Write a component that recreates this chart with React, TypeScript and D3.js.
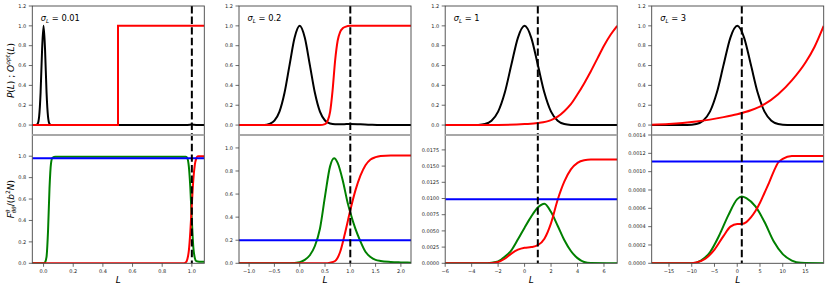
import React from 'react';
import * as d3 from 'd3';

type Pt = [number, number];

// ---- sigma_L = 0.01 ----
const p1TopBlack: Pt[] = [[-0.076, 0], [-0.05, 0], [-0.04, 0.012], [-0.03, 0.085], [-0.02, 0.33], [-0.01, 0.76], [0, 1.0], [0.01, 0.76], [0.02, 0.33], [0.03, 0.085], [0.04, 0.012], [0.05, 0], [0.96, 0], [0.99, 0.004], [1.0, 0.006], [1.01, 0.004], [1.04, 0], [1.084, 0]];
const p1TopRed: Pt[] = [[-0.076, 0], [0.502, 0], [0.502, 1.0], [1.084, 1.0]];
const p1BotGreen: Pt[] = [[-0.076, 0], [0, 0], [0.01, 0.01], [0.02, 0.06], [0.03, 0.3], [0.04, 0.7], [0.05, 0.93], [0.06, 0.985], [0.08, 0.995], [0.96, 0.995], [0.97, 0.98], [0.98, 0.9], [0.99, 0.7], [1.0, 0.4], [1.01, 0.15], [1.02, 0.05], [1.03, 0.02], [1.05, 0.015], [1.084, 0.015]];
const p1BotRed: Pt[] = [[-0.076, 0], [0.94, 0], [0.96, 0.01], [0.97, 0.04], [0.98, 0.12], [0.99, 0.3], [1.0, 0.55], [1.01, 0.78], [1.02, 0.92], [1.03, 0.98], [1.04, 1.0], [1.084, 1.0]];

// ---- sigma_L = 0.2 ----
const p2TopBlack: Pt[] = [[-1.2, 0], [-0.7, 0], [-0.6, 0.011], [-0.5, 0.044], [-0.4, 0.135], [-0.3, 0.325], [-0.2, 0.607], [-0.1, 0.882], [0, 1.0], [0.1, 0.882], [0.2, 0.607], [0.3, 0.325], [0.4, 0.135], [0.5, 0.046], [0.6, 0.015], [0.7, 0.008], [0.85, 0.008], [1.0, 0.012], [1.2, 0.008], [1.4, 0.003], [1.6, 0], [2.2, 0]];
const p2TopRed: Pt[] = [[-1.2, 0], [0.4, 0], [0.5, 0.01], [0.55, 0.04], [0.6, 0.13], [0.65, 0.35], [0.7, 0.65], [0.75, 0.85], [0.8, 0.94], [0.85, 0.975], [0.9, 0.99], [1.0, 1.0], [2.2, 1.0]];
const p2BotGreen: Pt[] = [[-1.2, 0], [-0.2, 0], [0, 0.01], [0.1, 0.03], [0.2, 0.07], [0.3, 0.15], [0.4, 0.3], [0.5, 0.58], [0.6, 0.84], [0.68, 0.91], [0.75, 0.87], [0.85, 0.72], [0.95, 0.52], [1.0, 0.44], [1.1, 0.3], [1.2, 0.19], [1.3, 0.1], [1.4, 0.055], [1.5, 0.03], [1.6, 0.02], [1.8, 0.012], [2.0, 0.008], [2.2, 0.005]];
const p2BotRed: Pt[] = [[-1.2, 0], [0.5, 0], [0.6, 0.005], [0.7, 0.02], [0.8, 0.1], [0.9, 0.27], [1.0, 0.46], [1.1, 0.63], [1.2, 0.76], [1.3, 0.85], [1.4, 0.9], [1.5, 0.92], [1.6, 0.93], [1.8, 0.935], [2.2, 0.935]];

// ---- sigma_L = 1 ----
const p3TopBlack: Pt[] = [[-6, 0], [-4, 0], [-3.5, 0.002], [-3, 0.011], [-2.5, 0.044], [-2, 0.135], [-1.5, 0.325], [-1, 0.607], [-0.5, 0.882], [0, 1.0], [0.5, 0.882], [1, 0.607], [1.5, 0.325], [2, 0.135], [2.5, 0.044], [3, 0.011], [3.5, 0.002], [4, 0], [7, 0]];
const p3TopRed: Pt[] = [[-6, 0], [-2, 0.002], [0, 0.01], [1, 0.02], [2, 0.05], [2.5, 0.085], [3, 0.14], [3.5, 0.21], [4, 0.31], [4.5, 0.42], [5, 0.54], [5.5, 0.67], [6, 0.8], [6.5, 0.91], [7, 1.0]];
const p3BotGreen: Pt[] = [[-6, 0], [-3, 0], [-2.5, 0.0001], [-2, 0.0003], [-1.5, 0.001], [-1, 0.002], [-0.5, 0.0037], [0, 0.0055], [0.5, 0.0072], [1, 0.0086], [1.5, 0.0092], [2, 0.0079], [2.5, 0.0058], [3, 0.0036], [3.5, 0.0019], [4, 0.0008], [4.5, 0.0002], [5, 0.00003], [7, 0]];
const p3BotRed: Pt[] = [[-6, 0], [-3, 0], [-2.5, 0.00005], [-2, 0.0002], [-1.5, 0.0007], [-1, 0.0015], [-0.5, 0.0021], [0, 0.0024], [0.5, 0.0025], [1, 0.0028], [1.5, 0.0038], [2, 0.0062], [2.5, 0.0098], [3, 0.0126], [3.5, 0.0145], [4, 0.0155], [4.5, 0.0159], [5, 0.016], [7, 0.016]];

// ---- sigma_L = 3 ----
const p4TopBlack: Pt[] = [[-18.8, 0], [-11, 0], [-9, 0.011], [-7.5, 0.044], [-6, 0.135], [-4.5, 0.325], [-3, 0.607], [-1.5, 0.882], [0, 1.0], [1.5, 0.882], [3, 0.607], [4.5, 0.325], [6, 0.135], [7.5, 0.044], [9, 0.011], [11, 0], [19, 0]];
const p4TopRed: Pt[] = [[-18.8, 0.003], [-15, 0.01], [-12, 0.02], [-9, 0.035], [-6, 0.055], [-3, 0.08], [0, 0.11], [3, 0.15], [6, 0.21], [9, 0.31], [12, 0.45], [15, 0.63], [17, 0.79], [19, 1.0]];
const p4BotGreen: Pt[] = [[-18.8, 0], [-10, 0], [-8, 0.00003], [-6, 0.00012], [-4, 0.0003], [-2, 0.00052], [0, 0.0007], [1, 0.00073], [2, 0.00071], [4, 0.00062], [6, 0.00045], [8, 0.00024], [10, 0.0001], [12, 0.00003], [14, 0.000005], [19, 0]];
const p4BotRed: Pt[] = [[-18.8, 0], [-11, 0], [-9, 0.00001], [-7, 0.00005], [-5, 0.00015], [-3, 0.0003], [-1.5, 0.0004], [0, 0.00043], [1, 0.00043], [2, 0.00045], [3, 0.0005], [4, 0.00057], [5, 0.00066], [6, 0.00077], [7, 0.00088], [8, 0.001], [9, 0.0011], [10, 0.00114], [12, 0.00117], [19, 0.00117]];

const sigmaLabels = ['0.01', '0.2', '1', '3'];
const xDomains: Pt[] = [[-0.076, 1.084], [-1.2, 2.2], [-6, 7], [-18.8, 19.0]];
const xTicks = [[0, 0.2, 0.4, 0.6, 0.8, 1.0], [-1, -0.5, 0, 0.5, 1, 1.5, 2], [-6, -4, -2, 0, 2, 4, 6], [-15, -10, -5, 0, 5, 10, 15]];
const xFormats = ['.1f', '.1f', 'd', 'd'];
const topYTicks = [0, 0.2, 0.4, 0.6, 0.8, 1.0, 1.2];
const botYMax = [1.198, 1.112, 0.0198, 0.0014];
const botYTicks = [
  [0, 0.2, 0.4, 0.6, 0.8, 1.0],
  [0, 0.2, 0.4, 0.6, 0.8, 1.0],
  [0, 0.0025, 0.005, 0.0075, 0.01, 0.0125, 0.015, 0.0175],
  [0, 0.0002, 0.0004, 0.0006, 0.0008, 0.001, 0.0012, 0.0014],
];
const botYFormats = ['.1f', '.1f', '.4f', '.4f'];
const blueLevels = [0.981, 0.2, 0.0099, 0.00111];
const thresholdL = 1;

const panels = [
  { topBlack: p1TopBlack, topRed: p1TopRed, botGreen: p1BotGreen, botRed: p1BotRed, stepRed: true },
  { topBlack: p2TopBlack, topRed: p2TopRed, botGreen: p2BotGreen, botRed: p2BotRed, stepRed: false },
  { topBlack: p3TopBlack, topRed: p3TopRed, botGreen: p3BotGreen, botRed: p3BotRed, stepRed: false },
  { topBlack: p4TopBlack, topRed: p4TopRed, botGreen: p4BotGreen, botRed: p4BotRed, stepRed: false },
];

const lefts = [32.3, 239, 445.2, 651.7];
const W = 172;
const TOP = 6;
const MID = 135;
const BOT = 263.3;
const FONT = 'DejaVu Sans, sans-serif';
const TICK_FS = 5;
const SPINE = '#444';

const minus = (s: string) => s.replace(/-/g, '\u2212');

const Panel = ({ i }: { i: number }) => {
  const p = panels[i];
  const x0 = lefts[i];
  const x = d3.scaleLinear().domain(xDomains[i]).range([x0, x0 + W]);
  const yTop = d3.scaleLinear().domain([-0.1, 1.2]).range([MID, TOP]);
  const yBot = d3.scaleLinear().domain([0, botYMax[i]]).range([BOT, MID]);

  const smooth = (ys: d3.ScaleLinear<number, number>) =>
    d3.line<Pt>().x(d => x(d[0])).y(d => ys(d[1])).curve(d3.curveMonotoneX);
  const straight = (ys: d3.ScaleLinear<number, number>) =>
    d3.line<Pt>().x(d => x(d[0])).y(d => ys(d[1]));

  const fx = d3.format(xFormats[i]);
  const fy = d3.format(botYFormats[i]);
  const clipT = `clipT${i}`;
  const clipB = `clipB${i}`;

  return (
    <g>
      <defs>
        <clipPath id={clipT}><rect x={x0} y={TOP} width={W} height={MID - TOP} /></clipPath>
        <clipPath id={clipB}><rect x={x0} y={MID} width={W} height={BOT - MID} /></clipPath>
      </defs>

      {/* top panel curves */}
      <g clipPath={`url(#${clipT})`} fill="none" strokeWidth={2}>
        <path d={smooth(yTop)(p.topBlack) || ''} stroke="#000" />
        <path d={(p.stepRed ? straight(yTop) : smooth(yTop))(p.topRed) || ''} stroke="#ff0000" />
      </g>

      {/* bottom panel curves */}
      <g clipPath={`url(#${clipB})`} fill="none" strokeWidth={2}>
        <path d={smooth(yBot)(p.botGreen) || ''} stroke="#008000" />
        <path d={smooth(yBot)(p.botRed) || ''} stroke="#ff0000" />
        <line x1={x0} x2={x0 + W} y1={yBot(blueLevels[i])} y2={yBot(blueLevels[i])} stroke="#0000ff" />
      </g>

      {/* dashed threshold */}
      <line x1={x(thresholdL)} x2={x(thresholdL)} y1={TOP} y2={BOT} stroke="#000" strokeWidth={2} strokeDasharray="7.4,3.2" />

      {/* spines */}
      <rect x={x0} y={TOP} width={W} height={BOT - TOP} fill="none" stroke={SPINE} strokeWidth={0.9} />
      <line x1={x0} x2={x0 + W} y1={MID} y2={MID} stroke="#a8a8a8" strokeWidth={1.8} />

      {/* top y ticks */}
      {topYTicks.map(t => (
        <g key={`ty${t}`}>
          <line x1={x0 - 3.5} x2={x0} y1={yTop(t)} y2={yTop(t)} stroke={SPINE} strokeWidth={0.8} />
          <text x={x0 - 6} y={yTop(t)} dy="0.35em" textAnchor="end" fontSize={TICK_FS} fontFamily={FONT} fill="#222">{d3.format('.1f')(t)}</text>
        </g>
      ))}

      {/* bottom y ticks */}
      {botYTicks[i].map(t => (
        <g key={`by${t}`}>
          <line x1={x0 - 3.5} x2={x0} y1={yBot(t)} y2={yBot(t)} stroke={SPINE} strokeWidth={0.8} />
          <text x={x0 - 6} y={yBot(t)} dy="0.35em" textAnchor="end" fontSize={TICK_FS} fontFamily={FONT} fill="#222">{fy(t)}</text>
        </g>
      ))}

      {/* x ticks */}
      {xTicks[i].map(t => (
        <g key={`x${t}`}>
          <line x1={x(t)} x2={x(t)} y1={BOT} y2={BOT + 3.5} stroke={SPINE} strokeWidth={0.8} />
          <text x={x(t)} y={BOT + 10} textAnchor="middle" fontSize={TICK_FS} fontFamily={FONT} fill="#222">{minus(fx(t))}</text>
        </g>
      ))}

      {/* x label */}
      <text x={x0 + W / 2} y={283} textAnchor="middle" fontSize={9} fontStyle="italic" fontFamily={FONT}>L</text>

      {/* sigma annotation */}
      <text x={x0 + 8.5} y={20.5} fontSize={8.3} fontFamily={FONT}>
        <tspan fontStyle="italic">σ</tspan>
        <tspan fontSize={5.6} dy={2} fontStyle="italic">L</tspan>
        <tspan dy={-2}> = {sigmaLabels[i]}</tspan>
      </text>
    </g>
  );
};

export default function App() {
  return (
    <svg width={830} height={290} style={{ position: 'fixed', left: 0, top: 0, background: '#fff' }}>
      {panels.map((_, i) => <Panel key={i} i={i} />)}

      {/* y labels */}
      <text transform={`translate(13.5,${(TOP + MID) / 2}) rotate(-90)`} textAnchor="middle" fontSize={9} fontFamily={FONT}>
        <tspan fontStyle="italic">P</tspan>(<tspan fontStyle="italic">L</tspan>) ; <tspan fontStyle="italic">O</tspan>
        <tspan fontSize={6} dy={-3.5} fontStyle="italic">opt</tspan>
        <tspan dy={3.5}>(</tspan><tspan fontStyle="italic">L</tspan>)
      </text>
      <text transform={`translate(13.5,${(MID + BOT) / 2}) rotate(-90)`} textAnchor="middle" fontSize={9} fontFamily={FONT}>
        <tspan fontStyle="italic">F</tspan>
        <tspan fontSize={5.5} dy={-3.5} fontStyle="italic">θ</tspan>
        <tspan fontSize={5.5} dx={-3.4} dy={6} fontStyle="italic">θθ</tspan>
        <tspan dy={-2.5}>/(</tspan><tspan fontStyle="italic">b</tspan>
        <tspan fontSize={6} dy={-3.5}>2</tspan>
        <tspan dy={3.5} fontStyle="italic">N</tspan>)
      </text>
    </svg>
  );
}
